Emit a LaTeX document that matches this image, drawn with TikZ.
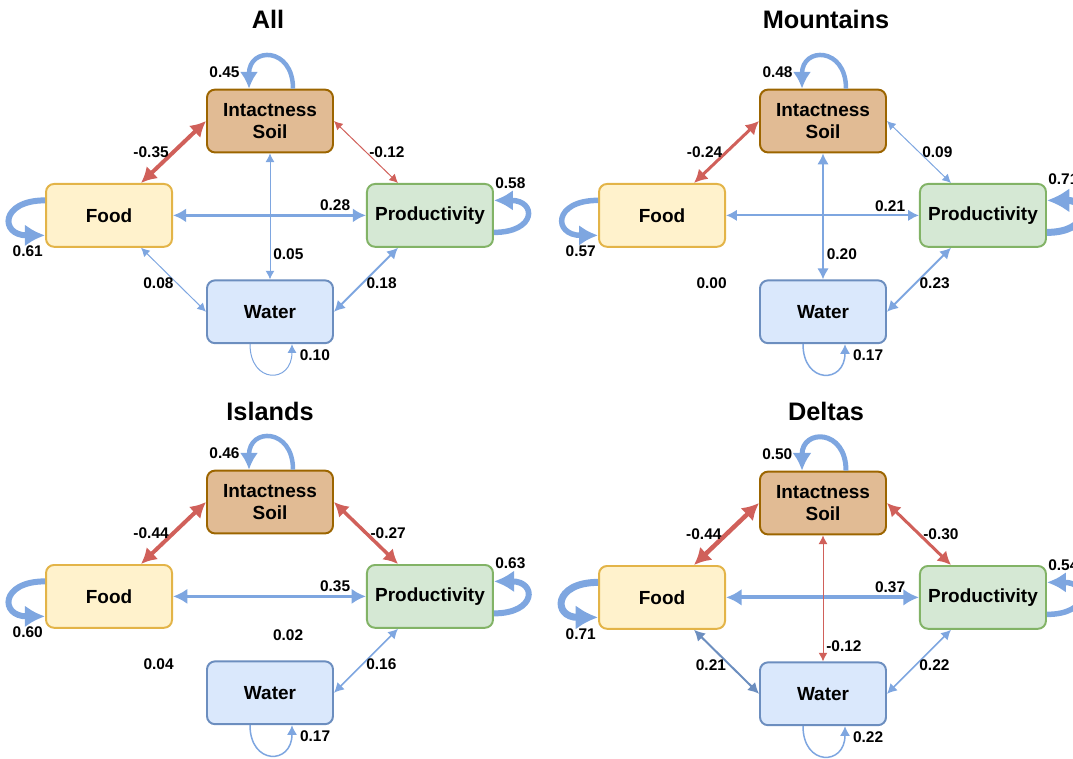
\documentclass[tikz,border=0pt]{standalone}
\usepackage{fontspec}
\setmainfont{Liberation Sans}
\usetikzlibrary{positioning,arrows.meta}

\definecolor{edgeblue}{HTML}{7EA6E0}
\definecolor{edgedark}{HTML}{6C8EBF}
\definecolor{edgered}{HTML}{D0605A}
\definecolor{soilfill}{HTML}{E1BB94}
\definecolor{soilline}{HTML}{9C6500}
\definecolor{foodfill}{HTML}{FFF2CC}
\definecolor{foodline}{HTML}{E3B448}
\definecolor{prodfill}{HTML}{D5E8D4}
\definecolor{prodline}{HTML}{82B366}
\definecolor{waterfill}{HTML}{DAE8FC}
\definecolor{waterline}{HTML}{6C8EBF}

% the four boxes of one panel: #1 prefix, #2 centre of the soil box
\newcommand{\drawpanel}[2]{%
  \node[soilbox] (#1-soil) at (#2) {Intactness\\Soil};
  \node[foodbox, below left=0.74cm and 0.825cm of #1-soil] (#1-food) {Food};
  \node[prodbox, below right=0.74cm and 0.8cm of #1-soil] (#1-prod) {Productivity};
  \node[waterbox, below=3.15cm of #1-soil] (#1-water) {Water};
}

\begin{document}
\begin{tikzpicture}[
    box/.style={draw, rounded corners=0.2cm, line width=1.4pt, minimum width=3.15cm,
      minimum height=1.57cm, align=center, font=\fontsize{13.5}{16}\selectfont\bfseries},
    soilbox/.style={box, fill=soilfill, draw=soilline},
    foodbox/.style={box, fill=foodfill, draw=foodline},
    prodbox/.style={box, fill=prodfill, draw=prodline},
    waterbox/.style={box, fill=waterfill, draw=waterline},
    lbl/.style={font=\fontsize{11}{13}\selectfont\bfseries, inner sep=2pt},
    ttl/.style={font=\fontsize{18}{21}\selectfont\bfseries},
    blueedge/.style={<->, draw=edgeblue, line width=#1*0.71pt},
    darkedge/.style={<->, draw=edgedark, line width=#1*0.71pt},
    rededge/.style={<->, draw=edgered, line width=#1*0.71pt},
    selfloop/.style={->, draw=edgeblue, line width=#1*0.71pt},
    >={Latex[length=4.5pt 2.3, width=4.5pt 2.6]}
  ]
  \useasboundingbox (0,0) rectangle (26.825,-18.95);

  \node[ttl] (t-all) at (6.7,-0.475) {All};
  \node[ttl] (t-mnt) at (20.65,-0.475) {Mountains};
  \node[ttl] (t-isl) at (6.75,-10.275) {Islands};
  \node[ttl] (t-dlt) at (20.65,-10.275) {Deltas};

  \drawpanel{a}{6.75,-3.025}
  \drawpanel{m}{20.575,-3.025}
  \drawpanel{i}{6.75,-12.55}
  \drawpanel{d}{20.575,-12.575}

  % All
  \draw[rededge=4] ([xshift=-0.8cm]a-food.north east) -- (a-soil.west) node[lbl, midway, left] {-0.35};
  \draw[rededge=1] (a-soil.east) -- ([xshift=0.8cm]a-prod.north west) node[lbl, midway, right] {-0.12};
  \draw[blueedge=3] (a-food) -- (a-prod) node[lbl, pos=0.84, above] {0.28};
  \draw[blueedge=1] (a-soil) -- (a-water) node[lbl, pos=0.8, right] {0.05};
  \draw[blueedge=1] ([xshift=-0.8cm]a-food.south east) -- (a-water.west) node[lbl, pos=0.55, left] {0.08};
  \draw[blueedge=2] ([xshift=0.8cm]a-prod.south west) -- (a-water.east) node[lbl, pos=0.55, right] {0.18};
  \draw[selfloop=4.5] ([xshift=0.575cm]a-soil.north) to[out=90, in=90, distance=1.05cm]
    node[lbl, pos=0.85, left=5pt] {0.45} ([xshift=-0.525cm]a-soil.north);
  \draw[selfloop=6] ([yshift=0.375cm]a-food.west) to[out=180, in=180, distance=1.13cm]
    node[lbl, pos=0.85, below=5pt] {0.61} ([yshift=-0.5cm]a-food.west);
  \draw[selfloop=5.5] ([yshift=-0.425cm]a-prod.east) to[out=0, in=0, distance=1.07cm]
    node[lbl, pos=0.85, above=6pt] {0.58} ([yshift=0.375cm]a-prod.east);
  \draw[selfloop=1] ([xshift=-0.5cm]a-water.south) to[out=-90, in=-90, distance=1cm]
    node[lbl, pos=0.9, right=4pt] {0.10} ([xshift=0.55cm]a-water.south);

  % Mountains
  \draw[rededge=3] ([xshift=-0.8cm]m-food.north east) -- (m-soil.west) node[lbl, midway, left] {-0.24};
  \draw[blueedge=1] (m-soil.east) -- ([xshift=0.8cm]m-prod.north west) node[lbl, midway, right] {0.09};
  \draw[blueedge=2] (m-food) -- (m-prod) node[lbl, pos=0.85, above] {0.21};
  \draw[blueedge=2] (m-soil) -- (m-water) node[lbl, pos=0.8, right] {0.20};
  \path ([xshift=-0.8cm]m-food.south east) -- (m-water.west) node[lbl, pos=0.55, left] {0.00};
  \draw[blueedge=2] ([xshift=0.8cm]m-prod.south west) -- (m-water.east) node[lbl, pos=0.55, right] {0.23};
  \draw[selfloop=4.5] ([xshift=0.575cm]m-soil.north) to[out=90, in=90, distance=1.05cm]
    node[lbl, pos=0.85, left=5pt] {0.48} ([xshift=-0.525cm]m-soil.north);
  \draw[selfloop=5.5] ([yshift=0.375cm]m-food.west) to[out=180, in=180, distance=1.13cm]
    node[lbl, pos=0.85, below=5pt] {0.57} ([yshift=-0.5cm]m-food.west);
  \draw[selfloop=7] ([yshift=-0.425cm]m-prod.east) to[out=0, in=0, distance=1.07cm]
    node[lbl, pos=0.85, above=8pt] {0.71} ([yshift=0.375cm]m-prod.east);
  \draw[selfloop=1.5] ([xshift=-0.5cm]m-water.south) to[out=-90, in=-90, distance=1cm]
    node[lbl, pos=0.9, right=4pt] {0.17} ([xshift=0.55cm]m-water.south);

  % Islands
  \draw[rededge=4] ([xshift=-0.8cm]i-food.north east) -- (i-soil.west) node[lbl, midway, left] {-0.44};
  \draw[rededge=3.5] (i-soil.east) -- ([xshift=0.8cm]i-prod.north west) node[lbl, midway, right] {-0.27};
  \draw[blueedge=3.5] (i-food) -- (i-prod) node[lbl, pos=0.84, above] {0.35};
  \path (i-soil) -- (i-water) node[lbl, pos=0.8, right] {0.02};
  \path ([xshift=-0.8cm]i-food.south east) -- (i-water.west) node[lbl, pos=0.55, left] {0.04};
  \draw[blueedge=1.5] ([xshift=0.8cm]i-prod.south west) -- (i-water.east) node[lbl, pos=0.55, right] {0.16};
  \draw[selfloop=4.5] ([xshift=0.575cm]i-soil.north) to[out=90, in=90, distance=1.05cm]
    node[lbl, pos=0.85, left=5pt] {0.46} ([xshift=-0.525cm]i-soil.north);
  \draw[selfloop=6] ([yshift=0.375cm]i-food.west) to[out=180, in=180, distance=1.13cm]
    node[lbl, pos=0.85, below=5pt] {0.60} ([yshift=-0.5cm]i-food.west);
  \draw[selfloop=6] ([yshift=-0.425cm]i-prod.east) to[out=0, in=0, distance=1.07cm]
    node[lbl, pos=0.85, above=6pt] {0.63} ([yshift=0.375cm]i-prod.east);
  \draw[selfloop=1.5] ([xshift=-0.5cm]i-water.south) to[out=-90, in=-90, distance=1cm]
    node[lbl, pos=0.9, right=4pt] {0.17} ([xshift=0.55cm]i-water.south);

  % Deltas
  \draw[rededge=4.5] ([xshift=-0.8cm]d-food.north east) -- (d-soil.west) node[lbl, midway, left] {-0.44};
  \draw[rededge=3] (d-soil.east) -- ([xshift=0.8cm]d-prod.north west) node[lbl, midway, right] {-0.30};
  \draw[blueedge=4] (d-food) -- (d-prod) node[lbl, pos=0.85, above] {0.37};
  \draw[rededge=1] (d-soil) -- (d-water) node[lbl, pos=0.88, right] {-0.12};
  \draw[darkedge=2] ([xshift=-0.8cm]d-food.south east) -- (d-water.west) node[lbl, pos=0.55, left] {0.21};
  \draw[blueedge=1.5] ([xshift=0.8cm]d-prod.south west) -- (d-water.east) node[lbl, pos=0.55, right] {0.22};
  \draw[selfloop=5] ([xshift=0.575cm]d-soil.north) to[out=90, in=90, distance=1.05cm]
    node[lbl, pos=0.85, left=5pt] {0.50} ([xshift=-0.525cm]d-soil.north);
  \draw[selfloop=7] ([yshift=0.375cm]d-food.west) to[out=180, in=180, distance=1.13cm]
    node[lbl, pos=0.85, below=5pt] {0.71} ([yshift=-0.5cm]d-food.west);
  \draw[selfloop=5.5] ([yshift=-0.425cm]d-prod.east) to[out=0, in=0, distance=1.07cm]
    node[lbl, pos=0.85, above=6pt] {0.54} ([yshift=0.375cm]d-prod.east);
  \draw[selfloop=1.5] ([xshift=-0.5cm]d-water.south) to[out=-90, in=-90, distance=1cm]
    node[lbl, pos=0.9, right=4pt] {0.22} ([xshift=0.55cm]d-water.south);
\end{tikzpicture}
\end{document}
